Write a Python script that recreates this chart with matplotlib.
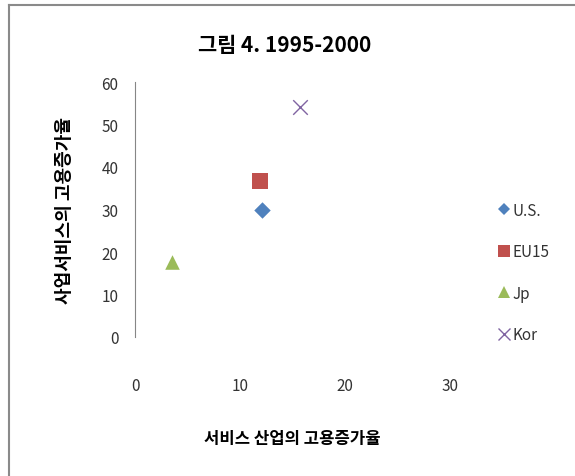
import matplotlib
matplotlib.use("Agg")
import matplotlib.pyplot as plt
from matplotlib.lines import Line2D

plt.rcParams['font.family'] = ['Noto Sans CJK KR', 'DejaVu Sans']

# data
countries = ["U.S.", "EU15", "Jp", "Kor"]
service_growth = [12.1, 11.9, 3.5, 15.7]      # x: 서비스 산업의 고용증가율
business_growth = [29.9, 36.7, 17.6, 54.1]    # y: 사업서비스의 고용증가율
markers = ["D", "s", "^", "x"]
colors = ["#4F81BD", "#C0504D", "#9BBB59", "#8064A2"]
sizes = [70, 140, 110, 110]

W, H = 575, 477
fig = plt.figure(figsize=(W / 100, H / 100), dpi=100)

# plot area in pixels: x 135..450, y 83..338
ax = fig.add_axes([135 / W, 1 - 338 / H, 315 / W, 255 / H])
for i in range(len(countries)):
  ax.scatter(service_growth[i], business_growth[i], marker=markers[i], s=sizes[i],
             color=colors[i], linewidths=1.0 if markers[i] == "x" else 0, zorder=3)

ax.set_xlim(0, 30)
ax.set_ylim(0, 60)
ax.set_xticks([0, 10, 20, 30])
ax.set_yticks(range(0, 61, 10))
for s in ["top", "right", "bottom"]:
  ax.spines[s].set_visible(False)
ax.spines["left"].set_color("#868686")
ax.tick_params(axis="both", length=0, labelsize=11, colors="#333333")
ax.tick_params(axis="x", pad=29)
ax.tick_params(axis="y", pad=12)

ax.set_xlabel("서비스 산업의 고용증가율", fontsize=12, fontweight="bold", labelpad=25)
ax.set_ylabel("사업서비스의 고용증가율", fontsize=13, fontweight="bold", labelpad=20)

fig.text(285 / W, 1 - 45 / H, "그림 4. 1995-2000", ha="center", va="center",
         fontsize=15, fontweight="bold")

# legend
handles = [Line2D([], [], linestyle="none", marker=markers[i], color=colors[i],
                  markersize=8 if markers[i] != "D" else 6.5,
                  markeredgewidth=1.0 if markers[i] == "x" else 0)
           for i in range(len(countries))]
leg = fig.legend(handles, countries, loc="upper left", bbox_to_anchor=(490 / W, 1 - 195 / H),
                 frameon=False, fontsize=11, handlelength=0.8, handletextpad=0.2,
                 labelspacing=1.6, borderpad=0)
for t in leg.get_texts():
  t.set_color("#333333")

# outer frame (top and left edges visible)
fig.add_artist(Line2D([9 / W, 1], [1 - 6 / H, 1 - 6 / H], color="#8a8a8a", lw=1.5))
fig.add_artist(Line2D([9 / W, 9 / W], [0, 1 - 6 / H], color="#8a8a8a", lw=1.5))

fig.savefig("out.png", dpi=100)
